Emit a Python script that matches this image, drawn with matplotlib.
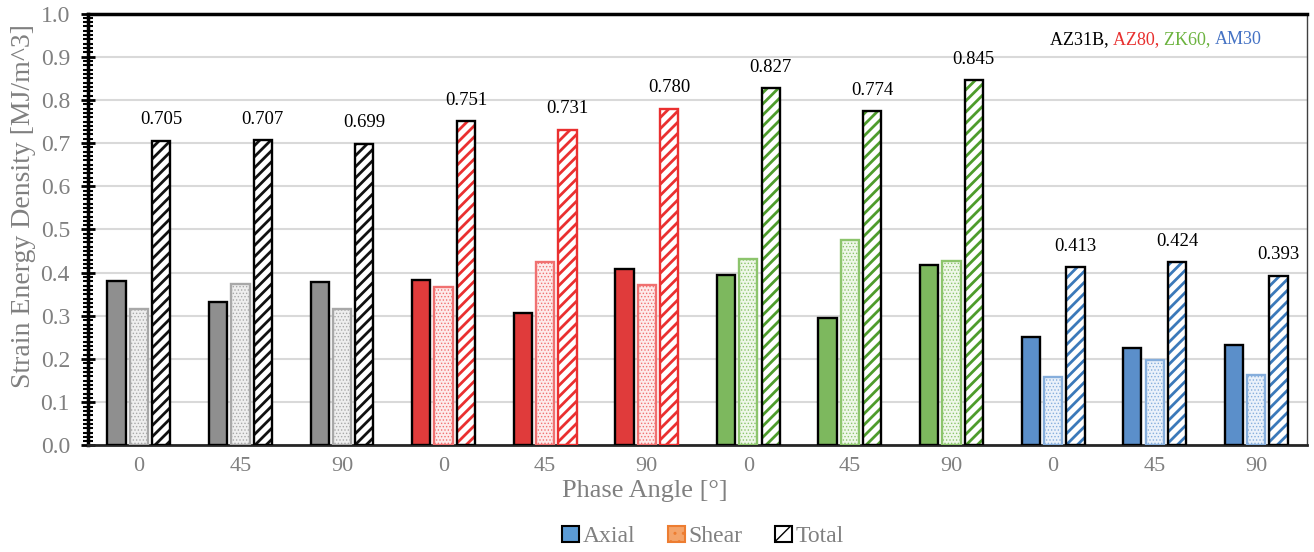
import matplotlib
matplotlib.use('Agg')
import matplotlib.pyplot as plt
import matplotlib.ticker as ticker
from matplotlib.patches import Patch
from matplotlib.offsetbox import TextArea, HPacker, AnchoredOffsetbox
import numpy as np

alloys = ['AZ31B', 'AZ80', 'ZK60', 'AM30']
angles = ['0', '45', '90'] * 4
axial = [0.381, 0.331, 0.378, 0.383, 0.306, 0.408,
         0.395, 0.296, 0.417, 0.252, 0.225, 0.232]
shear = [0.317, 0.373, 0.317, 0.366, 0.425, 0.371,
         0.431, 0.475, 0.428, 0.158, 0.197, 0.162]
total = [0.705, 0.707, 0.699, 0.751, 0.731, 0.780,
         0.827, 0.774, 0.845, 0.413, 0.424, 0.393]

# per alloy: axial fill, shear fill, shear dots/edge, total hatch, title colour
styles = {
    'AZ31B': dict(ax='#8f8f8f', sh='#eeeeee', dot='#a8a8a8', hat='#111111', txt='black'),
    'AZ80': dict(ax='#e03b3b', sh='#fdeaea', dot='#f07070', hat='#ea3030', txt='#e8302f'),
    'ZK60': dict(ax='#7db85e', sh='#eef7e8', dot='#8cc46c', hat='#4e9c2c', txt='#6cb33f'),
    'AM30': dict(ax='#5b8fca', sh='#eaf1fa', dot='#86aedc', hat='#3b79ba', txt='#4472c4'),
}
total_edge = ['black', 'black', 'black', 'black', '#ea3030', '#ea3030',
              'black', 'black', 'black', 'black', 'black', 'black']

plt.rcParams['font.family'] = 'Liberation Serif'
grey = '#808080'

fig = plt.figure(figsize=(13.14, 5.52), dpi=100)
ax = fig.add_axes([0.067, 0.193, 0.9277, 0.7825])

x = np.arange(len(angles))
w = 0.18
off = 0.22


def hatched_bar(xpos, h, face, hatch, hcolor, edge, hlw, elw):
    with plt.rc_context({'hatch.linewidth': hlw}):
        b = ax.bar(xpos, h, w, color=face, edgecolor=hcolor, hatch=hatch,
                   linewidth=0, zorder=3)
        if hasattr(b[0], 'set_hatch_linewidth'):
            b[0].set_hatch_linewidth(hlw)
    ax.bar(xpos, h, w, fill=False, edgecolor=edge, linewidth=elw, zorder=4)


for i in range(len(angles)):
    st = styles[alloys[i // 3]]
    ax.bar(x[i] - off, axial[i], w, color=st['ax'], edgecolor='black',
           linewidth=1.7, zorder=3)
    hatched_bar(x[i], shear[i], st['sh'], '.....', st['dot'], st['dot'], 0.6, 1.7)
    hatched_bar(x[i] + off, total[i], 'white', '///', st['hat'], total_edge[i], 2.0, 1.7)
    ax.annotate('%.3f' % total[i], (x[i] + off, total[i]), xytext=(0, 21),
                textcoords='offset pixels', ha='center', va='center',
                fontsize=13.5, color='black')

ax.set_xlim(-0.5, len(angles) - 0.5)
ax.set_ylim(0, 1.0)
ax.set_xticks(x)
ax.set_xticklabels(angles)
ax.yaxis.set_major_locator(ticker.MultipleLocator(0.1))
ax.yaxis.set_minor_locator(ticker.MultipleLocator(0.01))
ax.yaxis.set_major_formatter(ticker.FormatStrFormatter('%.1f'))
ax.tick_params(axis='y', which='major', direction='inout', length=10, width=2,
               labelsize=17, labelcolor=grey, color='black', pad=8)
ax.tick_params(axis='y', which='minor', direction='inout', length=7, width=1.5,
               color='black')
ax.tick_params(axis='x', length=0, labelsize=16, labelcolor=grey, pad=8)

ax.grid(axis='y', color='#d9d9d9', linewidth=1.5, zorder=0)
ax.set_axisbelow(True)

ax.spines['left'].set_linewidth(2.5)
ax.spines['top'].set_linewidth(2.5)
ax.spines['bottom'].set_linewidth(2)
ax.spines['bottom'].set_color('#262626')
ax.spines['right'].set_linewidth(1)
ax.spines['right'].set_color('#404040')

ax.set_ylabel('Strain Energy Density [MJ/m^3]', fontsize=20, color=grey)
ax.yaxis.set_label_coords(-0.043, 0.555)
ax.set_xlabel('Phase Angle [°]', fontsize=19, color=grey)
ax.xaxis.set_label_coords(0.457, -0.08)

parts = []
for k, a in enumerate(alloys):
    s = a + (', ' if k < len(alloys) - 1 else '')
    parts.append(TextArea(s, textprops=dict(color=styles[a]['txt'], fontsize=13)))
box = HPacker(children=parts, align='baseline', pad=0, sep=0)
anch = AnchoredOffsetbox(loc='upper right', child=box, frameon=False,
                         bbox_to_anchor=(0.967, 0.972), bbox_transform=ax.transAxes,
                         borderpad=0)
ax.add_artist(anch)

handles = [
    Patch(facecolor='#5b9bd5', edgecolor='black', linewidth=1.5, label='Axial'),
    Patch(facecolor='#f4a46a', edgecolor='#ed7d31', hatch='..', linewidth=1.5, label='Shear'),
    Patch(facecolor='white', edgecolor='black', hatch='//', linewidth=1.5, label='Total'),
]
fig.legend(handles=handles, loc='lower center', bbox_to_anchor=(0.535, -0.03),
           ncol=3, frameon=False, fontsize=17, handlelength=0.7, handleheight=0.7,
           handletextpad=0.15, columnspacing=1.4, labelcolor=grey)

fig.savefig('out.png', dpi=100)
